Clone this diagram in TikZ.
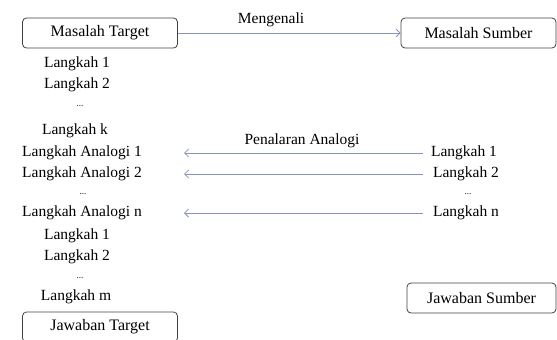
\documentclass[tikz,border=0pt]{standalone}
\usepackage{fontspec}
\setmainfont{Liberation Serif}
\usetikzlibrary{arrows.meta}
\definecolor{arrowcol}{HTML}{8A93BC}
\definecolor{boxcol}{HTML}{404040}
\begin{document}
\begin{tikzpicture}[x=1pt,y=-1pt,
  box/.style={draw=boxcol,line width=0.8pt,rounded corners=4pt,minimum width=155pt,minimum height=30pt,inner sep=0pt,font=\fontsize{16}{18}\selectfont},
  txt/.style={inner sep=0pt,font=\fontsize{15.5}{18}\selectfont},
  dots/.style={inner sep=0pt,font=\fontsize{9}{10}\selectfont},
  arr/.style={draw=arrowcol,line width=0.8pt,-{Straight Barb[length=4pt,width=8pt,line width=0.8pt]}},
  lab/.style={inner sep=0pt,font=\fontsize{15.5}{18}\selectfont}]
\useasboundingbox (0,0) rectangle (557,340);
\clip (0,0) rectangle (557,340);
% boxes
\node[box] (mt) at (100,33) {Masalah Target};
\node[box] (ms) at (478.5,33) {Masalah Sumber};
\node[box,minimum width=149pt] (js) at (481.5,298) {Jawaban Sumber};
\node[box] (jt) at (100,327) {Jawaban Target};
% left column
\node[txt] (l1) at (77,64) {Langkah 1};
\node[txt] (l2) at (77,85) {Langkah 2};
\node[dots] (ld1) at (80,106) {...};
\node[txt] (lk) at (75,131) {Langkah k};
\node[txt] (la1) at (82,153) {Langkah Analogi 1};
\node[txt] (la2) at (82,174) {Langkah Analogi 2};
\node[dots] (ld2) at (83,194) {...};
\node[txt] (lan) at (82,213) {Langkah Analogi n};
\node[txt] (m1) at (77,236) {Langkah 1};
\node[txt] (m2) at (77,257) {Langkah 2};
\node[dots] (ld3) at (80,278) {...};
\node[txt] (lm) at (76,297) {Langkah m};
% right column
\node[txt] (r1) at (464,153) {Langkah 1};
\node[txt] (r2) at (466,174) {Langkah 2};
\node[dots] (rd) at (468,194) {...};
\node[txt] (rn) at (466,213) {Langkah n};
% connectors
\coordinate (a1s) at (423,153);
\coordinate (a1e) at (184,153);
\coordinate (a2s) at (423,174);
\coordinate (a2e) at (184,174);
\coordinate (a3s) at (423,213);
\coordinate (a3e) at (184,213);
\draw[arr] (mt.east) -- (ms.west);
\node[lab] (lmeng) at (271,20) {Mengenali};
\draw[arr] (a1s) -- (a1e);
\node[lab] (lpen) at (302,141) {Penalaran Analogi};
\draw[arr] (a2s) -- (a2e);
\draw[arr] (a3s) -- (a3e);
\end{tikzpicture}
\end{document}
